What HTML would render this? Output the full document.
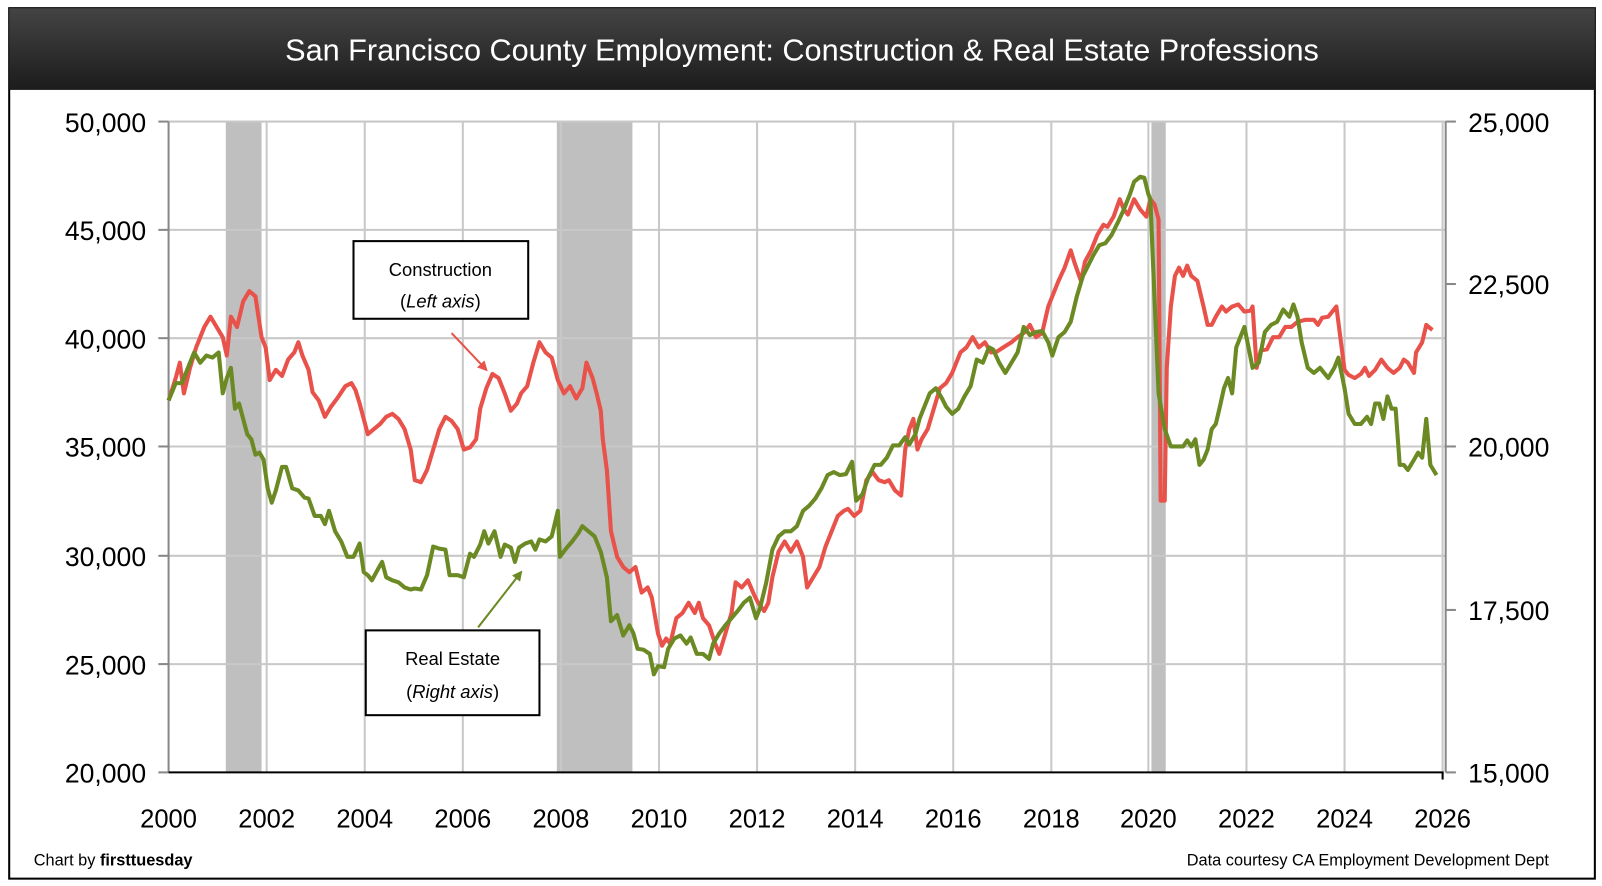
<!DOCTYPE html>
<html><head><meta charset="utf-8"><style>
html,body{margin:0;padding:0;background:#fff;}
svg{display:block;font-family:"Liberation Sans",sans-serif;}
</style></head><body>
<svg width="1602" height="886" viewBox="0 0 1568 867.2" preserveAspectRatio="none">
<defs>
<linearGradient id="tb" x1="0" y1="0" x2="0" y2="1"><stop offset="0" stop-color="#444"/><stop offset="1" stop-color="#1c1c1c"/></linearGradient>
<marker id="ar" markerWidth="10" markerHeight="10" refX="8" refY="5" orient="auto" markerUnits="userSpaceOnUse"><path d="M0,0 L10,5 L0,10 z" fill="#e8524a"/></marker>
<marker id="ag" markerWidth="10" markerHeight="10" refX="8" refY="5" orient="auto" markerUnits="userSpaceOnUse"><path d="M0,0 L10,5 L0,10 z" fill="#6b8a23"/></marker>
</defs>
<rect x="9" y="8" width="1552" height="852" fill="#fff" stroke="#000" stroke-width="2"/>
<rect x="9" y="8" width="1552" height="80" fill="url(#tb)"/>
<text x="785" y="59" font-size="30" fill="#fff" text-anchor="middle">San Francisco County Employment: Construction &amp; Real Estate Professions</text>
<rect x="221" y="119" width="35" height="637" fill="#bfbfbf"/>
<rect x="545" y="119" width="74" height="637" fill="#bfbfbf"/>
<rect x="1127" y="119" width="14" height="637" fill="#bfbfbf"/>
<g stroke="#c8c8c8" stroke-width="2">
<line x1="165" y1="119" x2="1415" y2="119"/><line x1="165" y1="225" x2="1415" y2="225"/><line x1="165" y1="331" x2="1415" y2="331"/><line x1="165" y1="437" x2="1415" y2="437"/><line x1="165" y1="544" x2="1415" y2="544"/><line x1="165" y1="650" x2="1415" y2="650"/>
<line x1="261" y1="119" x2="261" y2="756"/><line x1="357" y1="119" x2="357" y2="756"/><line x1="453" y1="119" x2="453" y2="756"/><line x1="549" y1="119" x2="549" y2="756"/><line x1="645" y1="119" x2="645" y2="756"/><line x1="741" y1="119" x2="741" y2="756"/><line x1="837" y1="119" x2="837" y2="756"/><line x1="933" y1="119" x2="933" y2="756"/><line x1="1029" y1="119" x2="1029" y2="756"/><line x1="1124" y1="119" x2="1124" y2="756"/><line x1="1220" y1="119" x2="1220" y2="756"/><line x1="1316" y1="119" x2="1316" y2="756"/><line x1="1412" y1="119" x2="1412" y2="756"/>
</g>
<g stroke="#888" stroke-width="2">
<line x1="165" y1="119" x2="165" y2="756"/><line x1="1415" y1="119" x2="1415" y2="756"/>
<line x1="155" y1="119" x2="165" y2="119"/><line x1="155" y1="225" x2="165" y2="225"/><line x1="155" y1="331" x2="165" y2="331"/><line x1="155" y1="437" x2="165" y2="437"/><line x1="155" y1="544" x2="165" y2="544"/><line x1="155" y1="650" x2="165" y2="650"/><line x1="155" y1="756" x2="165" y2="756"/>
<line x1="1415" y1="119" x2="1425" y2="119"/><line x1="1415" y1="278" x2="1425" y2="278"/><line x1="1415" y1="437" x2="1425" y2="437"/><line x1="1415" y1="597" x2="1425" y2="597"/><line x1="1415" y1="756" x2="1425" y2="756"/>
</g>
<line x1="165" y1="756" x2="1413" y2="756" stroke="#000" stroke-width="2"/>
<line x1="1412" y1="756" x2="1412" y2="763" stroke="#000" stroke-width="2"/>
<g font-size="26" fill="#000" text-anchor="end">
<text x="143" y="129">50,000</text><text x="143" y="235">45,000</text><text x="143" y="341">40,000</text><text x="143" y="447">35,000</text><text x="143" y="554">30,000</text><text x="143" y="660">25,000</text><text x="143" y="766">20,000</text>
</g>
<g font-size="26" fill="#000" text-anchor="start">
<text x="1437" y="129">25,000</text><text x="1437" y="288">22,500</text><text x="1437" y="447">20,000</text><text x="1437" y="607">17,500</text><text x="1437" y="766">15,000</text>
</g>
<g font-size="25" fill="#000" text-anchor="middle">
<text x="165" y="810">2000</text><text x="261" y="810">2002</text><text x="357" y="810">2004</text><text x="453" y="810">2006</text><text x="549" y="810">2008</text><text x="645" y="810">2010</text><text x="741" y="810">2012</text><text x="837" y="810">2014</text><text x="933" y="810">2016</text><text x="1029" y="810">2018</text><text x="1124" y="810">2020</text><text x="1220" y="810">2022</text><text x="1316" y="810">2024</text><text x="1412" y="810">2026</text>
</g>
<polyline fill="none" stroke="#e8524a" stroke-width="4" stroke-linejoin="round" points="165,392 172,370 176,355 180,385 186,360 192,340 200,320 206,310 212,320 218,330 222,348 226,310 232,320 238,295 244,285 250,290 256,330 260,340 264,372 270,362 276,368 282,352 288,345 292,335 296,348 302,362 306,384 312,392 318,408 324,398 330,390 338,378 344,375 348,382 352,395 360,425 366,420 372,415 378,408 384,405 390,410 396,420 402,440 406,470 412,472 418,460 424,440 430,420 436,408 442,412 448,420 454,440 460,438 466,430 470,400 476,380 482,366 488,370 494,385 500,402 506,395 510,385 516,378 522,355 528,335 534,345 540,350 546,372 552,385 558,378 564,390 570,380 574,355 580,370 584,385 588,402 590,430 594,460 598,520 604,545 610,555 616,560 622,555 628,580 634,575 638,585 644,620 648,632 652,625 656,630 662,605 668,600 674,590 680,600 684,590 688,605 694,612 700,630 704,640 710,620 716,600 720,570 726,575 732,568 738,582 742,590 748,598 752,590 756,565 762,540 768,530 774,540 780,530 786,545 790,575 796,565 802,555 808,535 814,520 820,505 826,500 830,498 836,505 842,500 848,470 854,462 860,470 866,472 870,470 876,480 882,485 886,440 890,420 894,410 898,440 902,430 908,420 914,400 920,380 926,375 932,365 940,345 946,340 952,330 958,340 964,335 970,345 976,344 982,340 990,335 996,330 1002,326 1008,318 1014,330 1020,326 1026,300 1030,290 1036,275 1042,262 1048,245 1052,258 1058,275 1062,256 1068,245 1074,230 1080,220 1084,222 1090,212 1096,195 1100,205 1104,210 1110,195 1116,205 1122,212 1126,195 1130,200 1134,215 1136,490 1140,490 1142,360 1146,300 1150,270 1154,262 1158,270 1162,260 1166,270 1172,275 1178,300 1182,318 1186,318 1190,310 1196,300 1200,305 1206,300 1212,298 1218,305 1224,304 1226,300 1230,360 1234,343 1240,342 1246,330 1252,330 1258,320 1264,320 1270,315 1278,313 1286,313 1290,318 1294,311 1300,310 1308,300 1316,362 1320,367 1326,370 1332,366 1336,360 1340,368 1346,362 1352,352 1358,360 1364,365 1370,360 1374,352 1378,355 1384,365 1386,345 1392,335 1396,318 1402,323"/>
<polyline fill="none" stroke="#6b8a23" stroke-width="4" stroke-linejoin="round" points="165,392 172,375 178,375 184,360 190,345 196,355 202,348 208,350 214,345 218,385 222,370 226,360 230,400 234,395 238,410 242,425 246,430 250,445 254,443 258,450 262,478 266,492 270,480 276,457 280,457 286,478 292,480 298,487 302,488 308,505 314,505 318,513 322,500 328,520 334,530 340,545 346,545 352,532 356,560 360,563 364,568 370,557 374,550 378,565 384,568 390,570 396,575 402,577 406,576 412,577 418,563 424,535 430,537 436,538 440,563 448,563 454,565 460,542 464,545 470,533 474,520 478,532 484,520 490,545 494,533 500,536 504,550 508,536 514,532 520,530 524,538 528,528 534,530 540,525 546,500 548,545 554,537 560,530 566,522 570,515 576,520 582,525 588,540 594,565 598,608 604,602 610,622 616,612 620,620 624,635 630,636 636,640 640,660 644,652 650,653 654,635 660,625 666,622 672,630 676,624 682,640 688,640 694,645 698,630 704,620 710,612 716,605 722,598 728,590 734,585 740,605 744,595 750,570 756,538 762,525 768,520 774,520 780,515 786,500 792,495 798,488 804,478 810,465 816,462 822,465 828,464 834,452 838,490 844,484 850,467 856,455 862,455 868,448 874,436 880,436 886,428 890,435 896,425 900,410 904,400 910,385 916,380 922,390 926,398 932,405 938,400 944,388 950,378 956,352 962,355 968,340 972,342 978,355 984,365 990,355 996,345 1002,320 1008,328 1014,325 1020,324 1026,335 1030,348 1036,330 1042,325 1048,315 1054,290 1060,270 1064,262 1070,250 1076,240 1082,238 1088,230 1094,218 1100,205 1106,190 1110,178 1116,173 1120,174 1124,190 1126,195 1128,245 1134,385 1140,420 1146,437 1152,437 1158,437 1162,431 1166,437 1170,430 1174,455 1178,450 1182,440 1186,420 1190,415 1194,398 1198,380 1202,370 1206,385 1210,340 1214,330 1218,320 1222,340 1226,360 1232,355 1238,325 1244,318 1250,315 1256,303 1262,310 1266,298 1270,310 1274,335 1280,360 1286,365 1292,360 1296,365 1300,370 1306,360 1310,350 1316,380 1320,405 1326,415 1332,415 1338,408 1342,415 1346,395 1350,395 1354,410 1358,388 1362,400 1366,400 1370,455 1374,455 1378,460 1384,450 1388,443 1392,448 1396,410 1400,455 1406,465"/>
<rect x="346" y="236" width="171" height="76" fill="#fff" stroke="#000" stroke-width="2"/>
<text x="431" y="270" font-size="18" text-anchor="middle">Construction</text>
<text x="431" y="301" font-size="18" text-anchor="middle">(<tspan font-style="italic">Left axis</tspan>)</text>
<line x1="442" y1="326" x2="476" y2="362" stroke="#e8524a" stroke-width="2" marker-end="url(#ar)"/>
<rect x="358" y="617" width="170" height="83" fill="#fff" stroke="#000" stroke-width="2"/>
<text x="443" y="651" font-size="18" text-anchor="middle">Real Estate</text>
<text x="443" y="683" font-size="18" text-anchor="middle">(<tspan font-style="italic">Right axis</tspan>)</text>
<line x1="468" y1="614" x2="510" y2="560" stroke="#6b8a23" stroke-width="2" marker-end="url(#ag)"/>
<text x="33" y="847" font-size="16">Chart by <tspan font-weight="bold">firsttuesday</tspan></text>
<text x="1516" y="847" font-size="16" text-anchor="end">Data courtesy CA Employment Development Dept</text>
</svg>
</body></html>
